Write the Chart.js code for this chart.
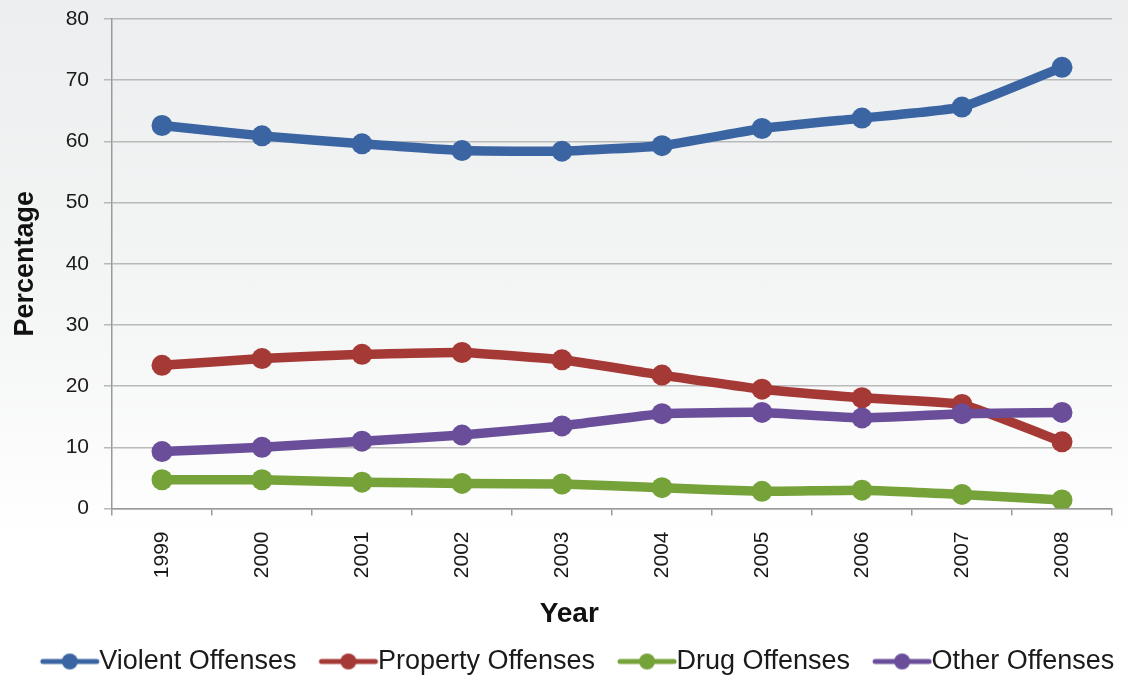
<!DOCTYPE html>
<html>
<head>
<meta charset="utf-8">
<script src="https://cdn.jsdelivr.net/npm/chart.js@4.4.1/dist/chart.umd.min.js"></script>
<style>
  html, body { margin: 0; padding: 0; }
  body {
    width: 1128px; height: 675px; overflow: hidden;
    background: linear-gradient(to bottom, #eceeef 0%, #f4f5f5 45%, #ffffff 80%);
  }
  #wrap { position: relative; width: 1128px; height: 675px; }
</style>
</head>
<body>
<div id="wrap"><canvas id="chart"></canvas></div>
<script>
const years = ["1999", "2000", "2001", "2002", "2003", "2004", "2005", "2006", "2007", "2008"];

const violent  = [62.6, 60.9, 59.6, 58.5, 58.4, 59.3, 62.1, 63.8, 65.6, 72.1];
const property = [23.4, 24.5, 25.2, 25.5, 24.3, 21.8, 19.5, 18.1, 17.0, 10.9];
const drug     = [4.7, 4.7, 4.3, 4.1, 4.0, 3.4, 2.8, 3.0, 2.3, 1.4];
const other    = [9.3, 10.0, 11.0, 12.0, 13.5, 15.5, 15.7, 14.8, 15.5, 15.7];

const yTicks = [0, 10, 20, 30, 40, 50, 60, 70, 80];

const COLORS = {
  violent:  "#3b65a2",
  property: "#a53935",
  drug:     "#76a23a",
  other:    "#6a4e9a",
};

const FONT = "'Liberation Sans', Arial, sans-serif";

// Legend marker: short line with a dot in the middle (Excel style).
// Image is wider than the legend box so the line runs almost up to the text.
function legendMarker(color) {
  const c = document.createElement("canvas");
  c.width = 100; c.height = 22;
  const ctx = c.getContext("2d");
  ctx.strokeStyle = color;
  ctx.lineWidth = 5;
  ctx.lineCap = "round";
  ctx.beginPath(); ctx.moveTo(39, 11); ctx.lineTo(93, 11); ctx.stroke();
  ctx.fillStyle = color;
  ctx.beginPath(); ctx.arc(66, 11, 8, 0, Math.PI * 2); ctx.fill();
  return c;
}

function series(label, data, color, order) {
  return {
    label,
    data,
    order,
    borderColor: color,
    backgroundColor: color,
    borderWidth: 9.5,
    pointRadius: 10.5,
    pointHoverRadius: 10.5,
    pointBorderWidth: 0,
    pointStyle: "circle",
    tension: 0.12,
    legendMarker: legendMarker(color),
  };
}

// The original legend sits a little right of centre and close to the bottom edge
const legendShift = {
  id: "legendShift",
  afterLayout(chart) {
    const lg = chart.legend;
    lg.left += 12; lg.right += 12;
    lg.top += 10; lg.bottom += 10;
  }
};

new Chart(document.getElementById("chart"), {
  type: "line",
  data: {
    labels: years,
    datasets: [
      series("Violent Offenses",  violent,  COLORS.violent,  3),
      series("Property Offenses", property, COLORS.property, 2),
      series("Drug Offenses",     drug,     COLORS.drug,     1),
      series("Other Offenses",    other,    COLORS.other,    0),
    ]
  },
  plugins: [legendShift],
  options: {
    responsive: true,
    maintainAspectRatio: false,
    animation: false,
    layout: { padding: { top: 19, right: 16, left: 0, bottom: 0 } },
    plugins: {
      tooltip: { enabled: false },
      legend: {
        position: "bottom",
        labels: {
          usePointStyle: true,
          pointStyleWidth: 64,
          boxHeight: 22,
          padding: 4,
          color: "#1a1a1a",
          font: { size: 27, family: FONT },
          sort: (a, b) => a.datasetIndex - b.datasetIndex,
          generateLabels(chart) {
            return chart.data.datasets.map((ds, i) => ({
              text: ds.label,
              datasetIndex: i,
              pointStyle: ds.legendMarker,
              fillStyle: ds.borderColor,
              strokeStyle: ds.borderColor,
              lineWidth: 0,
              hidden: false,
              fontColor: "#1a1a1a",
            }));
          }
        }
      }
    },
    scales: {
      x: {
        offset: true,
        grid: { display: true, drawOnChartArea: false, drawTicks: true, tickLength: 7, color: "#9a9a9a", lineWidth: 1.5, offset: true },
        border: { color: "#9a9a9a", width: 1.5 },
        ticks: { color: "#1a1a1a", font: { size: 21, family: FONT }, minRotation: 90, maxRotation: 90, padding: 16 },
        // trailing spaces nudge the centred title left, as in the original
        title: { display: true, text: "Year           ", color: "#111", font: { size: 28, weight: "bold", family: FONT }, padding: { top: 0, bottom: 3 } },
        afterFit(axis) {
          axis.height = 125.5;
          axis.paddingLeft = 0; axis.paddingRight = 0;
          axis.paddingTop = 0; axis.paddingBottom = 0;
        }
      },
      y: {
        min: 0,
        max: 80,
        afterBuildTicks(axis) { axis.ticks = yTicks.map(v => ({ value: v })); },
        grid: { color: "#b9b9b9", lineWidth: 1.5, tickLength: 8 },
        border: { color: "#9a9a9a", width: 1.5 },
        ticks: { color: "#1a1a1a", font: { size: 21, family: FONT }, padding: 15 },
        title: { display: true, text: "Percentage", color: "#111", font: { size: 27, weight: "bold", family: FONT }, padding: { top: 9, bottom: 0 } },
        afterFit(axis) {
          axis.width = 112;
          axis.paddingTop = 0; axis.paddingBottom = 0;
        }
      }
    }
  }
});
</script>
</body>
</html>
